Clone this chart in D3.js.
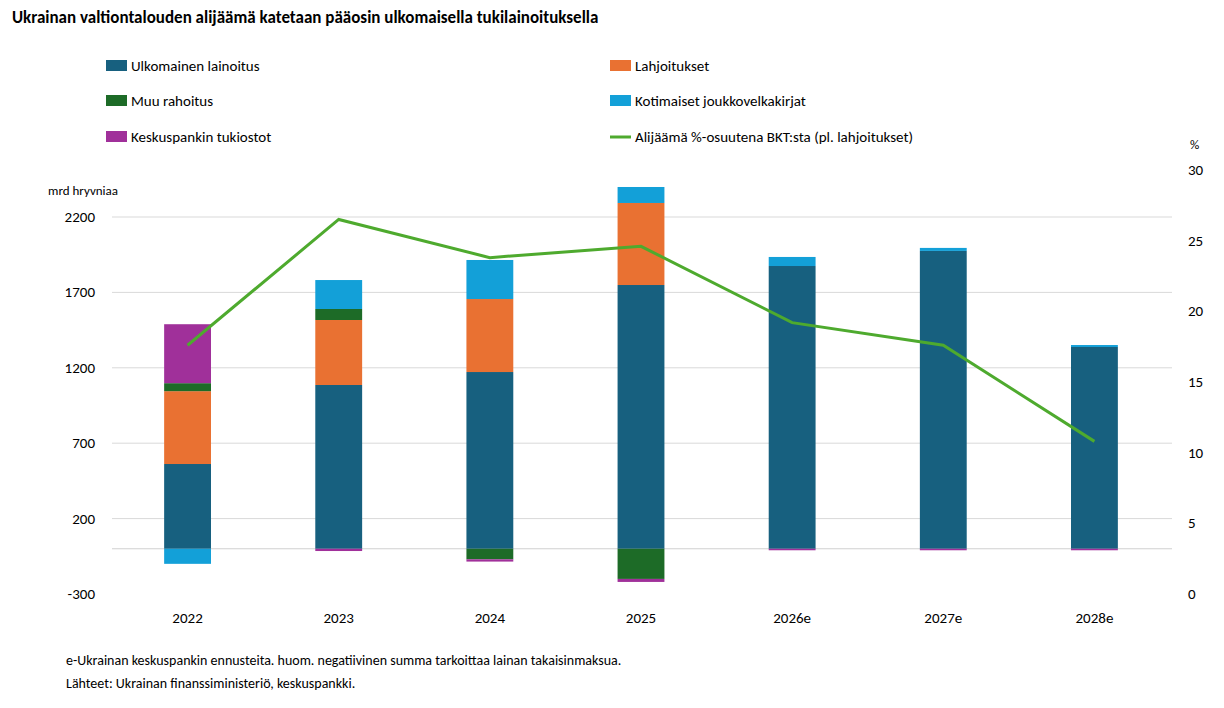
<!DOCTYPE html>
<html><head><meta charset="utf-8">
<script src="https://cdn.jsdelivr.net/npm/d3@7"></script>
<style>body{margin:0;background:#fff;font-family:Calibri,Carlito,"Liberation Sans",Arial,sans-serif}</style>
</head><body>
<svg id="c" width="1224" height="708"></svg>
<script>
var years = ["2022","2023","2024","2025","2026e","2027e","2028e"];
var ulkomainen = [562,1086,1172,1749,1875,1975,1338];
var lahjoitukset = [483,431,484,544,0,0,0];
var muu = [53,73,-70,-200,0,0,0];
var kotimaiset = [-100,192,259,106,60,20,13];
var keskuspankki = [391,-15,-15,-20,-10,-10,-10];
var alijaama = [17.6,26.5,23.8,24.6,19.2,17.6,10.8];
var leftTicks = [-300,200,700,1200,1700,2200];
var rightTicks = [0,5,10,15,20,25,30];

var series = [
  {name:"Ulkomainen lainoitus", vals:ulkomainen, color:"#17607f"},
  {name:"Lahjoitukset", vals:lahjoitukset, color:"#e97132"},
  {name:"Muu rahoitus", vals:muu, color:"#1d6b27"},
  {name:"Kotimaiset joukkovelkakirjat", vals:kotimaiset, color:"#13a0d8"},
  {name:"Keskuspankin tukiostot", vals:keskuspankki, color:"#a0309a"}
];

var svg = d3.select("#c");
var x = d3.scaleBand().domain(years).range([112,1170]).paddingInner(0.69).paddingOuter(0.345);
var y = d3.scaleLinear().domain([-300,2200]).range([594,217]);
var y2 = d3.scaleLinear().domain([0,30]).range([594,170]);

svg.append("text").attr("x",12).attr("y",23).attr("font-size",17).attr("font-weight","bold").text("Ukrainan valtiontalouden alijäämä katetaan pääosin ulkomaisella tukilainoituksella");

// gridlines
svg.append("g").selectAll("line").data(leftTicks.slice(1).concat([0])).join("line")
  .attr("x1",112).attr("x2",1172).attr("y1",d=>y(d)).attr("y2",d=>y(d))
  .attr("stroke",d=>d===0?"#d0d0d0":"#d9d9d9");

svg.append("g").selectAll("text").data(leftTicks).join("text")
  .attr("x",95).attr("y",d=>y(d)+5).attr("text-anchor","end").attr("font-size",15).text(d=>d);
svg.append("g").selectAll("text").data(rightTicks).join("text")
  .attr("x",1188).attr("y",d=>y2(d)+5).attr("font-size",15).text(d=>d);
svg.append("text").attr("x",48).attr("y",195).attr("font-size",13).text("mrd hryvniaa");
svg.append("text").attr("x",1190).attr("y",149).attr("font-size",13).text("%");

svg.append("g").selectAll("text").data(years).join("text")
  .attr("x",d=>x(d)+x.bandwidth()/2).attr("y",623).attr("text-anchor","middle").attr("font-size",15).text(d=>d);

// stacked bars
years.forEach(function(yr,i){
  var pos=0, neg=0;
  series.forEach(function(s){
    var v=s.vals[i]; if(!v) return;
    var y0,y1;
    if(v>0){y0=pos;y1=pos+v;pos=y1;} else {y0=neg;y1=neg+v;neg=y1;}
    svg.append("rect").attr("x",x(yr)).attr("width",x.bandwidth())
      .attr("y",y(Math.max(y0,y1))).attr("height",Math.abs(y(y0)-y(y1)))
      .attr("fill",s.color);
  });
});

// line
svg.append("path").datum(alijaama)
  .attr("d",d3.line().x((d,i)=>x(years[i])+x.bandwidth()/2).y(d=>y2(d)))
  .attr("fill","none").attr("stroke","#4eaa2e").attr("stroke-width",3);

// legend
var leg = [
  {t:"Ulkomainen lainoitus",c:"#17607f",x:106,y:66},
  {t:"Lahjoitukset",c:"#e97132",x:610,y:66},
  {t:"Muu rahoitus",c:"#1d6b27",x:106,y:101},
  {t:"Kotimaiset joukkovelkakirjat",c:"#13a0d8",x:610,y:101},
  {t:"Keskuspankin tukiostot",c:"#a0309a",x:106,y:137}
];
leg.forEach(function(l){
  svg.append("rect").attr("x",l.x).attr("y",l.y-6).attr("width",21).attr("height",11).attr("fill",l.c);
  svg.append("text").attr("x",l.x+25).attr("y",l.y+5).attr("font-size",15).text(l.t);
});
svg.append("line").attr("x1",610).attr("x2",631).attr("y1",137).attr("y2",137).attr("stroke","#4eaa2e").attr("stroke-width",3);
svg.append("text").attr("x",635).attr("y",142).attr("font-size",15).text("Alijäämä %-osuutena BKT:sta (pl. lahjoitukset)");

svg.append("text").attr("x",66).attr("y",665).attr("font-size",14).text("e-Ukrainan keskuspankin ennusteita. huom. negatiivinen summa tarkoittaa lainan takaisinmaksua.");
svg.append("text").attr("x",66).attr("y",688).attr("font-size",14).text("Lähteet: Ukrainan finanssiministeriö, keskuspankki.");
</script>
</body></html>
